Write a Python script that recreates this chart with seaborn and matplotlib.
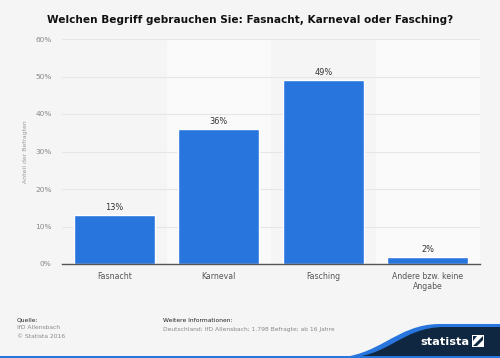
import matplotlib
matplotlib.use("Agg")
import matplotlib.pyplot as plt
import seaborn as sns
import pandas as pd
import numpy as np
from matplotlib.path import Path
from matplotlib.patches import PathPatch, Rectangle, Polygon

categories = ["Fasnacht", "Karneval", "Fasching", "Andere bzw. keine\nAngabe"]
values = [13, 36, 49, 2]
labels = ["13%", "36%", "49%", "2%"]
yticks = [0, 10, 20, 30, 40, 50, 60]

sns.set_theme(style="white")
plt.rcParams['font.family'] = ['DejaVu Sans']

W, H = 500, 358
fig = plt.figure(figsize=(5, 3.58), dpi=100)
fig.patch.set_facecolor("#f5f5f5")
ax = fig.add_axes([62/W, 1-264/H, (480-62)/W, (264-39)/H])
ax.set_facecolor("#f5f5f5")

df = pd.DataFrame({"cat": categories, "val": values})
for i in range(len(categories)):
    if i % 2 == 1:
        ax.axvspan(i-0.5, i+0.5, color="#fafafa", zorder=0, lw=0)
sns.barplot(data=df, x="cat", y="val", color="#2876dd", saturation=1, width=0.775, ax=ax, zorder=3)
ax.set_xlim(-0.5, len(categories)-0.5)
ax.set_ylim(0, 60)
ax.set_yticks(yticks)
ax.set_yticklabels([f"{t}%" for t in yticks])
ax.yaxis.grid(True, color="#e6e6e6", lw=0.8, zorder=1)
ax.set_axisbelow(True)
for s in ["top", "right", "left"]:
    ax.spines[s].set_visible(False)
ax.spines["bottom"].set_color("#555555")
ax.spines["bottom"].set_linewidth(1.0)
ax.spines["bottom"].set_zorder(5)
ax.tick_params(axis="x", length=0, labelsize=5.6, colors="#555555", pad=6)
ax.tick_params(axis="y", length=0, labelsize=5.3, colors="#888888", pad=7.5)
ax.set_xlabel("")
ax.set_ylabel("Anteil der Befragten", fontsize=4.4, color="#999999")
ax.yaxis.set_label_coords((28-62)/418, 0.5)
ax.set_xticklabels(categories, linespacing=1.05)
ax.bar_label(ax.containers[0], labels=labels, fontsize=5.9, color="#333333", padding=2)

fig.text(0.5, 1-20/H, "Welchen Begriff gebrauchen Sie: Fasnacht, Karneval oder Fasching?",
         ha="center", va="center", fontsize=7.6, fontweight="bold", color="#111111")

fs = 4.3
fig.text(17/W, 1-319.5/H, "Quelle:", fontsize=fs, color="#222222", va="center")
fig.text(17/W, 1-327.5/H, "IfD Allensbach", fontsize=fs, color="#888888", va="center")
fig.text(17/W, 1-336/H, "© Statista 2016", fontsize=fs, color="#888888", va="center")
fig.text(163/W, 1-320.5/H, "Weitere Informationen:", fontsize=fs, color="#222222", va="center")
fig.text(163/W, 1-329.5/H, "Deutschland; IfD Allensbach; 1.798 Befragte; ab 16 Jahre", fontsize=fs, color="#888888", va="center")

def fp(x, y):
    return (x/W, 1-y/H)

codes = [Path.MOVETO, Path.CURVE4, Path.CURVE4, Path.CURVE4, Path.LINETO, Path.LINETO, Path.CLOSEPOLY]
blue_verts = [fp(330, 358), fp(380, 358), fp(395, 324), fp(440, 324), fp(500, 324), fp(500, 358), fp(330, 358)]
fig.patches.append(PathPatch(Path(blue_verts, codes), transform=fig.transFigure, facecolor="#2876dd", edgecolor="none"))
dark_verts = [fp(342, 358), fp(390, 358), fp(400, 327), fp(445, 327), fp(500, 327), fp(500, 358), fp(342, 358)]
fig.patches.append(PathPatch(Path(dark_verts, codes), transform=fig.transFigure, facecolor="#0f2740", edgecolor="none"))
fig.patches.append(Rectangle(fp(0, 358), 1, 2/H, transform=fig.transFigure, facecolor="#2876dd", edgecolor="none"))
fig.text(444.5/W, 1-342/H, "statista", fontsize=8.2, fontweight="bold", color="white", ha="center", va="center")
fig.patches.append(Rectangle(fp(472, 347), 12/W, 12/H, transform=fig.transFigure, facecolor="white", edgecolor="none"))
fig.patches.append(Polygon([fp(473, 346), fp(483, 336), fp(483, 340), fp(477, 346)], closed=True, transform=fig.transFigure, facecolor="#0f2740", edgecolor="none"))
fig.patches.append(Polygon([fp(473, 341), fp(477, 336), fp(473, 336)], closed=True, transform=fig.transFigure, facecolor="#0f2740", edgecolor="none"))

fig.savefig("out.png", dpi=100, facecolor=fig.get_facecolor())
